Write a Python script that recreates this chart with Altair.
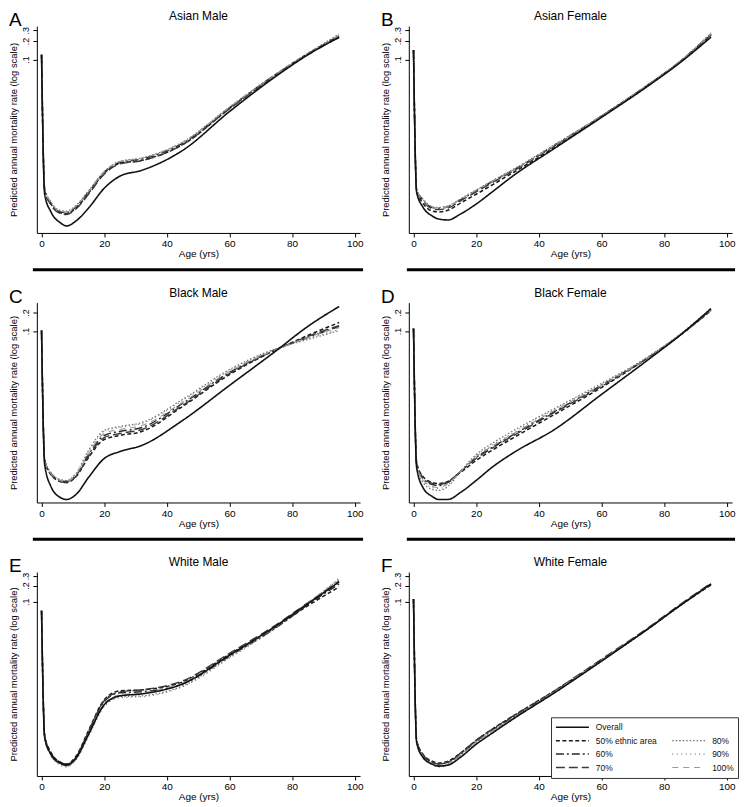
import altair as alt
import pandas as pd

FONT = "Liberation Sans"

ages = [0, 1, 3, 6, 8, 11, 15, 20, 25, 32, 45, 60, 75, 85, 95]
series_names = ["Overall", "50% ethnic area", "60%", "70%", "80%", "90%", "100%"]

# A  Asian Male
am_overall = [0.119, 0.00064, 0.00033, 0.00022, 0.000195, 0.000235, 0.00038, 0.0008, 0.00126, 0.00157, 0.0033, 0.0142, 0.054, 0.119, 0.23]
am_50 = [0.119, 0.00075, 0.00044, 0.00032, 0.00031, 0.00038, 0.00067, 0.00141, 0.00204, 0.00228, 0.0041, 0.0159, 0.058, 0.124, 0.24]
am_60 = [0.119, 0.00078, 0.00046, 0.00033, 0.00032, 0.0004, 0.0007, 0.00146, 0.0021, 0.0024, 0.0043, 0.0164, 0.058, 0.121, 0.23]
am_70 = [0.119, 0.00073, 0.00043, 0.00031, 0.0003, 0.00037, 0.00064, 0.00136, 0.002, 0.00225, 0.0041, 0.0157, 0.056, 0.121, 0.245]
am_80 = [0.119, 0.0008, 0.00048, 0.00035, 0.00034, 0.00042, 0.00073, 0.0015, 0.0022, 0.0025, 0.0045, 0.0168, 0.059, 0.126, 0.26]
am_90 = [0.119, 0.00077, 0.00046, 0.00034, 0.00033, 0.00041, 0.0007, 0.00147, 0.00215, 0.00245, 0.0044, 0.0165, 0.058, 0.123, 0.25]
am_100 = [0.119, 0.00079, 0.00047, 0.00034, 0.00033, 0.00041, 0.00071, 0.00148, 0.00218, 0.00248, 0.0045, 0.0167, 0.058, 0.122, 0.245]

# B  Asian Female
af_overall = [0.143, 0.00069, 0.000396, 0.000283, 0.000253, 0.000244, 0.000305, 0.000443, 0.00069, 0.0013, 0.00357, 0.0114, 0.0374, 0.088, 0.232]
af_50 = [0.143, 0.00072, 0.00046, 0.00034, 0.00033, 0.00035, 0.00046, 0.00064, 0.0009, 0.00146, 0.0037, 0.0118, 0.0388, 0.091, 0.25]
af_60 = [0.143, 0.00075, 0.00052, 0.00039, 0.00038, 0.0004, 0.00052, 0.00073, 0.00102, 0.0016, 0.004, 0.012, 0.039, 0.092, 0.26]
af_70 = [0.143, 0.00074, 0.0005, 0.00037, 0.00036, 0.00038, 0.0005, 0.0007, 0.00098, 0.00155, 0.0039, 0.0119, 0.039, 0.091, 0.255]
af_80 = [0.143, 0.00076, 0.00054, 0.0004, 0.00039, 0.00041, 0.00054, 0.00075, 0.00105, 0.00165, 0.0041, 0.0121, 0.0395, 0.093, 0.27]
af_90 = [0.143, 0.00075, 0.00053, 0.0004, 0.00038, 0.00041, 0.00053, 0.00074, 0.00104, 0.0016, 0.004, 0.012, 0.039, 0.092, 0.265]
af_100 = [0.143, 0.00075, 0.00052, 0.00039, 0.00038, 0.0004, 0.00053, 0.00074, 0.00103, 0.0016, 0.004, 0.012, 0.039, 0.092, 0.26]

# C  Black Male
bm_overall = [0.102, 0.000692, 0.000305, 0.000202, 0.000188, 0.000226, 0.000427, 0.000865, 0.00112, 0.00141, 0.00357, 0.0132, 0.0485, 0.119, 0.25]
bm_50 = [0.102, 0.000804, 0.000477, 0.000367, 0.000354, 0.000443, 0.000899, 0.00176, 0.00204, 0.00237, 0.00601, 0.0198, 0.0503, 0.0849, 0.138]
bm_60 = [0.102, 0.000804, 0.000495, 0.000381, 0.000367, 0.000459, 0.001005, 0.00204, 0.00237, 0.00275, 0.00673, 0.0214, 0.0503, 0.0787, 0.119]
bm_70 = [0.102, 0.000804, 0.000477, 0.000367, 0.000354, 0.000443, 0.000933, 0.00189, 0.0022, 0.00255, 0.00624, 0.0206, 0.0503, 0.0818, 0.123]
bm_80 = [0.102, 0.000834, 0.000514, 0.000396, 0.000381, 0.000495, 0.00117, 0.00246, 0.00285, 0.00331, 0.00781, 0.0239, 0.0522, 0.0731, 0.102]
bm_90 = [0.102, 0.000834, 0.000514, 0.000396, 0.000381, 0.000495, 0.00112, 0.00237, 0.00275, 0.00319, 0.00752, 0.023, 0.0522, 0.0759, 0.106]
bm_100 = [0.102, 0.000804, 0.000495, 0.000381, 0.000367, 0.000477, 0.00104, 0.0022, 0.00255, 0.00296, 0.00698, 0.0222, 0.0503, 0.0787, 0.114]

# D  Black Female
bf_overall = [0.11, 0.000619, 0.000294, 0.00021, 0.000188, 0.000188, 0.000244, 0.000381, 0.000619, 0.00108, 0.00255, 0.00942, 0.0347, 0.0849, 0.232]
bf_50 = [0.11, 0.000746, 0.000443, 0.000354, 0.000341, 0.000367, 0.000514, 0.000804, 0.00117, 0.00189, 0.00447, 0.0122, 0.0374, 0.0849, 0.216]
bf_60 = [0.11, 0.000718, 0.000411, 0.000328, 0.000316, 0.000354, 0.000533, 0.000899, 0.0013, 0.00212, 0.00499, 0.0132, 0.0374, 0.0849, 0.216]
bf_70 = [0.11, 0.000718, 0.000427, 0.000341, 0.000328, 0.000367, 0.000533, 0.000865, 0.00126, 0.00204, 0.00481, 0.0127, 0.0374, 0.0849, 0.224]
bf_80 = [0.11, 0.000667, 0.000354, 0.000273, 0.000263, 0.000305, 0.000533, 0.001005, 0.00151, 0.00246, 0.00558, 0.0142, 0.0388, 0.0881, 0.232]
bf_90 = [0.11, 0.000692, 0.000381, 0.000294, 0.000283, 0.000328, 0.000533, 0.000968, 0.00141, 0.00228, 0.00538, 0.0137, 0.0388, 0.0881, 0.224]
bf_100 = [0.11, 0.000692, 0.000396, 0.000305, 0.000294, 0.000341, 0.000533, 0.000933, 0.00136, 0.0022, 0.00518, 0.0132, 0.0374, 0.0849, 0.224]

# E  White Male
wm_overall = [0.0683, 0.000306, 0.000149, 0.000102, 0.0000937, 0.000126, 0.000347, 0.00123, 0.0018, 0.00196, 0.00299, 0.0102, 0.0362, 0.0918, 0.233]
wm_50 = [0.0683, 0.000333, 0.000162, 0.000106, 0.0000977, 0.000137, 0.000411, 0.00152, 0.00223, 0.00232, 0.00326, 0.0106, 0.0347, 0.0843, 0.188]
wm_60 = [0.0683, 0.000319, 0.000156, 0.000106, 0.0000977, 0.000131, 0.000378, 0.0014, 0.00205, 0.00214, 0.00299, 0.00978, 0.0333, 0.088, 0.214]
wm_70 = [0.0683, 0.000319, 0.000149, 0.000102, 0.0000937, 0.000131, 0.000394, 0.00146, 0.00214, 0.00232, 0.0034, 0.0111, 0.0378, 0.0957, 0.243]
wm_80 = [0.0683, 0.000293, 0.000143, 0.0000977, 0.0000898, 0.000121, 0.000333, 0.00118, 0.00173, 0.0018, 0.00275, 0.00937, 0.0347, 0.0918, 0.264]
wm_90 = [0.0683, 0.000293, 0.000137, 0.0000937, 0.0000861, 0.000116, 0.000319, 0.00113, 0.00166, 0.00173, 0.00264, 0.00899, 0.0333, 0.0918, 0.275]
wm_100 = [0.0683, 0.000306, 0.000143, 0.0000977, 0.0000898, 0.000121, 0.000347, 0.00129, 0.00188, 0.00205, 0.00313, 0.0102, 0.0362, 0.0957, 0.253]

# F  White Female
wf_overall = [0.113, 0.000248, 0.000131, 0.0000977, 0.0000898, 0.0000937, 0.000131, 0.000228, 0.000362, 0.000683, 0.00205, 0.00792, 0.0319, 0.0843, 0.214]
wf_50 = [0.113, 0.00027, 0.000149, 0.000111, 0.000102, 0.000111, 0.000156, 0.00027, 0.000429, 0.000774, 0.00223, 0.00826, 0.0319, 0.0843, 0.205]
wf_60 = [0.113, 0.000258, 0.000143, 0.000106, 0.0000977, 0.000106, 0.000149, 0.000258, 0.000411, 0.000743, 0.00214, 0.00826, 0.0319, 0.0843, 0.214]
wf_70 = [0.113, 0.00027, 0.000149, 0.000106, 0.0000977, 0.000106, 0.000156, 0.00027, 0.000429, 0.000774, 0.00223, 0.00861, 0.0333, 0.088, 0.223]
wf_80 = [0.113, 0.000248, 0.000137, 0.0000977, 0.0000898, 0.0000977, 0.000143, 0.000248, 0.000394, 0.000712, 0.00214, 0.00792, 0.0319, 0.0843, 0.214]
wf_90 = [0.113, 0.000248, 0.000131, 0.0000937, 0.0000861, 0.0000937, 0.000137, 0.000237, 0.000378, 0.000683, 0.00205, 0.00792, 0.0319, 0.0843, 0.223]
wf_100 = [0.113, 0.000258, 0.000137, 0.0000977, 0.0000898, 0.0000977, 0.000143, 0.000248, 0.000394, 0.000712, 0.00214, 0.00826, 0.0319, 0.0843, 0.214]

panel_letters = ["A", "B", "C", "D", "E", "F"]
panel_titles = ["Asian Male", "Asian Female", "Black Male", "Black Female", "White Male", "White Female"]
panel_series = [
    [am_overall, am_50, am_60, am_70, am_80, am_90, am_100],
    [af_overall, af_50, af_60, af_70, af_80, af_90, af_100],
    [bm_overall, bm_50, bm_60, bm_70, bm_80, bm_90, bm_100],
    [bf_overall, bf_50, bf_60, bf_70, bf_80, bf_90, bf_100],
    [wm_overall, wm_50, wm_60, wm_70, wm_80, wm_90, wm_100],
    [wf_overall, wf_50, wf_60, wf_70, wf_80, wf_90, wf_100],
]
row_y_domains = [[0.000150, 0.350], [0.000168, 0.290], [0.0000589, 0.355]]
row_heights = [208, 201, 205]
x_domain = [-1.5, 101.7]
x_ticks = [0, 20, 40, 60, 80, 100]
y_ticks = [0.1, 0.2, 0.3]

# legend ordering (legend grid fills column by column; blank slot top-right)
legend_domain = ["Overall", "50% ethnic area", "60%", "70%", " ", "80%", "90%", "100%"]
color_range = ["#111111", "#1a1a1a", "#2a2a2a", "#3a3a3a", "#ffffff", "#707070", "#7a7a7a", "#9a9a9a"]
dash_range = [[1, 0], [4, 2.5], [8, 3, 2, 3], [9, 4], [1, 0], [1.5, 2], [1, 3.5], [6, 5]]
width_range = [1.6, 1.1, 1.1, 1.1, 0, 1.1, 1.1, 1.1]

W = 325


def build_df(lists):
    rows = []
    order = series_names[1:] + series_names[:1]  # Overall drawn last (on top)
    lookup = dict(zip(series_names, lists))
    for name in order:
        for a, v in zip(ages, lookup[name]):
            rows.append({"age": a, "rate": v, "series": name})
    return pd.DataFrame(rows)


def make_panel(i):
    row = i // 2
    H = row_heights[row]
    df = build_df(panel_series[i])
    show_legend = (i == 5)
    if show_legend:
        leg = alt.Legend(
            orient="none", legendX=143, legendY=146, columns=2, title=None,
            symbolType="stroke", symbolSize=1100, clipHeight=12,
            labelFontSize=8.5, labelFont=FONT, labelColor="#111",
            strokeColor="#333", fillColor="white", padding=4,
            rowPadding=1.5, columnPadding=14, labelOffset=6,
        )
    else:
        leg = None
    lines = alt.Chart(df).mark_line(interpolate="monotone", clip=True).encode(
        x=alt.X("age:Q",
                scale=alt.Scale(domain=x_domain, nice=False, zero=False),
                axis=alt.Axis(values=x_ticks, title="Age (yrs)", labelFontSize=10,
                              titleFontSize=10, labelPadding=2, titlePadding=0,
                              labelFlush=False, tickSize=4, grid=False,
                              titleFontWeight="normal")),
        y=alt.Y("rate:Q",
                scale=alt.Scale(type="log", domain=row_y_domains[row], nice=False),
                axis=alt.Axis(values=y_ticks, labelExpr="'.' + round(datum.value*10)",
                              labelAngle=270, labelAlign="center", labelBaseline="bottom",
                              labelFontSize=9, labelPadding=2, tickSize=4, grid=False,
                              title="Predicted annual mortality rate (log scale)",
                              titleFontSize=9.5, titleFontWeight="normal",
                              titleAngle=270, titleX=-18, titleY=H / 2,
                              titleAlign="center", titleBaseline="bottom")),
        color=alt.Color("series:N", scale=alt.Scale(domain=legend_domain, range=color_range), legend=leg),
        strokeDash=alt.StrokeDash("series:N", scale=alt.Scale(domain=legend_domain, range=dash_range), legend=leg),
        strokeWidth=alt.StrokeWidth("series:N", scale=alt.Scale(domain=legend_domain, range=width_range), legend=leg),
        detail="series:N",
    )
    letter = alt.Chart(pd.DataFrame({"t": [panel_letters[i]]})).mark_text(
        align="left", baseline="alphabetic", fontSize=19, font=FONT, color="black"
    ).encode(text="t:N", x=alt.value(-28), y=alt.value(0))
    title = alt.Chart(pd.DataFrame({"t": [panel_titles[i]]})).mark_text(
        align="center", baseline="alphabetic", fontSize=12, font=FONT, color="black"
    ).encode(text="t:N", x=alt.value(W / 2), y=alt.value(-6))
    layers = [lines, letter, title]
    if row < 2:
        left = -4 if i % 2 == 0 else -2
        right = W + 3
        sep = alt.Chart(pd.DataFrame({"s": [0]})).mark_rule(color="black", strokeWidth=3).encode(
            x=alt.value(left), x2=alt.value(right), y=alt.value(H + 37)
        )
        layers.append(sep)
    return alt.layer(*layers).properties(width=W, height=H)


panels = [make_panel(i) for i in range(6)]

chart = alt.concat(*panels, columns=2, spacing={"row": 70, "column": 49}, bounds="flush").resolve_scale(
    color="independent", strokeDash="independent", strokeWidth="independent"
).resolve_legend(
    color="independent", strokeDash="independent", strokeWidth="independent"
).properties(
    padding={"left": 0, "top": 0, "right": 0, "bottom": 0}
).configure(background="white").configure_view(stroke=None).configure_axis(
    grid=False, domainColor="black", tickColor="black", labelColor="black", titleColor="black",
    labelFont=FONT, titleFont=FONT, titleFontWeight="normal", domainWidth=1, tickWidth=1
)

chart.save("out.html", embed_options={"renderer": "svg", "actions": False})
